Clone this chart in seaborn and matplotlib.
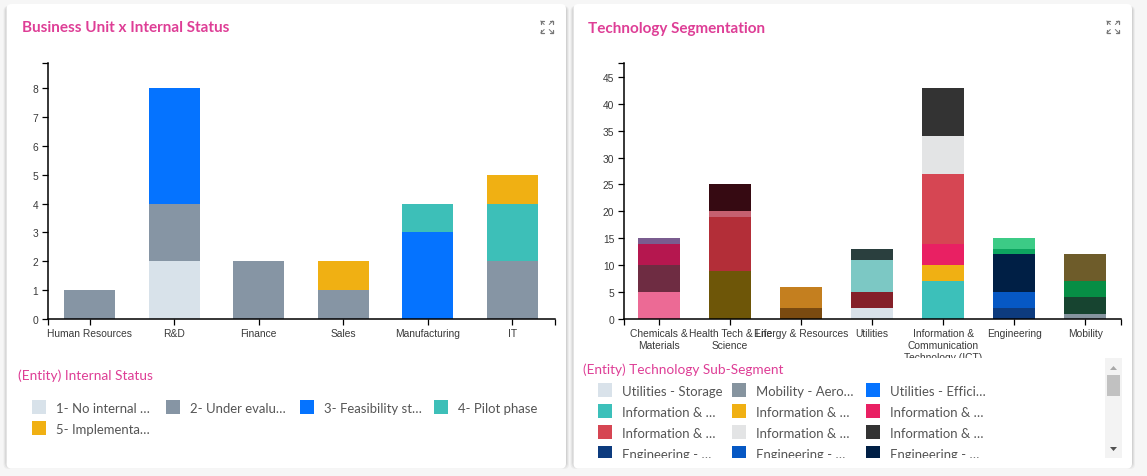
import matplotlib
matplotlib.use("Agg")
import matplotlib.pyplot as plt
import seaborn as sns
from matplotlib.patches import FancyBboxPatch, Rectangle, Polygon

# left chart data
units = ['Human Resources', 'R&D', 'Finance', 'Sales', 'Manufacturing', 'IT']
status_names = ['1- No internal …', '2- Under evalu…', '3- Feasibility st…', '4- Pilot phase', '5- Implementa…']
status_colors = ['#D8E2EA', '#8695A4', '#0573FF', '#3DBFB8', '#F0B013']
no_internal = [0, 2, 0, 0, 0, 0]
under_eval = [1, 2, 2, 1, 0, 2]
feasibility = [0, 4, 0, 0, 3, 0]
pilot = [0, 0, 0, 0, 1, 2]
implementation = [0, 0, 0, 1, 0, 1]
status_values = [no_internal, under_eval, feasibility, pilot, implementation]

# right chart data, each bar has its own sub-segments
segments = ['Chemicals &\nMaterials', 'Health Tech & Life\nScience', 'Energy & Resources', 'Utilities',
            'Information &\nCommunication\nTechnology (ICT)', 'Engineering', 'Mobility']
seg_values = [
    [5, 5, 4, 1],
    [9, 10, 1, 5],
    [2, 4],
    [2, 3, 6, 2],
    [7, 3, 4, 13, 7, 9],
    [2, 3, 7, 1, 2],
    [1, 3, 3, 5],
]
seg_colors = [
    ['#EC6A95', '#6E2C42', '#B5174F', '#7A5C8F'],
    ['#6E5608', '#B32E38', '#C56070', '#360A12'],
    ['#7A4A10', '#C47F1F'],
    ['#D9E2EA', '#842029', '#7CC8C4', '#2A3F3E'],
    ['#3CC0BA', '#F0B013', '#E92063', '#D64653', '#E3E4E5', '#333333'],
    ['#0D3B7E', '#0658C4', '#001F45', '#0DA560', '#3CCB86'],
    ['#86949F', '#174430', '#078E45', '#6E5C2A'],
]

# legend of right chart (only the rows visible above the scroll)
sub_names = ['Utilities - Storage', 'Mobility - Aero…', 'Utilities - Effici…',
             'Information & …', 'Information & …', 'Information & …',
             'Information & …', 'Information & …', 'Information & …',
             'Engineering - …', 'Engineering - …', 'Engineering - …']
sub_colors = ['#D9E2EA', '#86949F', '#0573FF',
              '#3CC0BA', '#F0B013', '#E92063',
              '#D64653', '#E3E4E5', '#333333',
              '#0D3B7E', '#0658C4', '#001F45']

sns.set_style("ticks")
plt.rcParams['font.family'] = ['Liberation Sans', 'DejaVu Sans']

W, H = 1147, 477
PINK = '#DE3E96'
fig = plt.figure(figsize=(W / 100, H / 100), dpi=100, facecolor='#F6F6F6')


def px_axes(x0, y0, x1, y1, **kw):
    return fig.add_axes([x0 / W, 1 - y1 / H, (x1 - x0) / W, (y1 - y0) / H], **kw)


def overlay(z):
    a = px_axes(0, 0, W, H, zorder=z)
    a.set_xlim(0, W)
    a.set_ylim(H, 0)
    a.axis('off')
    return a


def style_axis(ax, n, top, yticks):
    ax.set_xlim(-0.5, n - 0.5)
    ax.set_ylim(0, top)
    ax.set_yticks(yticks)
    ax.set_xticks([-0.5, n - 0.5], minor=True)
    ax.set_yticks([top], minor=True)
    ax.tick_params(which='both', length=4.3, width=0.9, color='black', labelsize=7.4,
                   labelcolor='#3A3A3A', pad=2.5)
    ax.set_xlabel('')
    ax.set_ylabel('')
    ax.patch.set_alpha(0)
    sns.despine(ax=ax)
    for s in ['left', 'bottom']:
        ax.spines[s].set_linewidth(1.1)
        ax.spines[s].set_color('black')


back = overlay(0)
for x0, x1 in [(6.5, 566), (573.5, 1132)]:
    for grow, alpha in [(4, 0.04), (3, 0.05), (2, 0.06), (1, 0.08)]:
        back.add_patch(FancyBboxPatch((x0 - grow + 1, 5 + 2), x1 - x0 + 2 * grow - 2, 464 - 5 + grow,
                                      boxstyle='round,pad=0,rounding_size=5', fc='black', ec='none', alpha=alpha))
    back.add_patch(FancyBboxPatch((x0, 5), x1 - x0, 464.5, boxstyle='round,pad=0,rounding_size=5',
                                  fc='white', ec='none'))

# business unit chart
ax1 = px_axes(47.5, 64.3, 554.5, 320, zorder=2)
bottom = [0] * len(units)
for vals, col in zip(status_values, status_colors):
    sns.barplot(x=units, y=vals, order=units, bottom=bottom, color=col, saturation=1, width=0.6,
                errorbar=None, linewidth=0, ax=ax1)
    bottom = [b + v for b, v in zip(bottom, vals)]
style_axis(ax1, len(units), 8.86, list(range(9)))

# technology chart
ax2 = px_axes(623.7, 64.3, 1120.6, 320, zorder=2)
for cat, vals, cols in zip(segments, seg_values, seg_colors):
    base = 0
    for v, c in zip(vals, cols):
        sns.barplot(x=[cat], y=[v], order=segments, bottom=base, color=c, saturation=1, width=0.6,
                    errorbar=None, linewidth=0, ax=ax2)
        base += v
style_axis(ax2, len(segments), 47.5, list(range(0, 50, 5)))

front = overlay(5)
# legend panel hides the overflowing tick label
front.add_patch(Rectangle((575, 358.5), 550, 100, fc='white', ec='none', zorder=1))

front.text(22, 28.5, 'Business Unit x Internal Status', color=PINK, fontsize=10.95, fontweight='bold',
           family='Lato', va='center', ha='left', zorder=3)
front.text(588, 28.5, 'Technology Segmentation', color=PINK, fontsize=11, fontweight='bold',
           family='Lato', va='center', ha='left', zorder=3)
front.text(17.5, 376, '(Entity) Internal Status', color=PINK, fontsize=9.95, family='Lato',
           va='center', ha='left', zorder=3)
front.text(583, 370, '(Entity) Technology Sub-Segment', color=PINK, fontsize=9.85, family='Lato',
           va='center', ha='left', zorder=3)

# expand icons
for cx in [546.7, 1112.8]:
    for sx in [-1, 1]:
        for sy in [-1, 1]:
            ox, oy = cx + sx * 6, 28 + sy * 6
            front.plot([ox, ox - sx * 3], [oy, oy], color='#777777', lw=0.9, zorder=3)
            front.plot([ox, ox], [oy, oy - sy * 3], color='#777777', lw=0.9, zorder=3)
            front.plot([ox, ox - sx * 3.5], [oy, oy - sy * 3.5], color='#777777', lw=0.7, zorder=3)

# left legend
left_pos = [(32, 401), (166, 401), (300, 401), (434, 401), (32, 422)]
for (x, y), name, col in zip(left_pos, status_names, status_colors):
    front.add_patch(Rectangle((x, y), 14, 14, fc=col, ec='none', zorder=2))
    front.text(x + 24, y + 7.7, name, fontsize=9.45, family='Lato', color='#555555', va='center', zorder=2)

# right legend
for i, (name, col) in enumerate(zip(sub_names, sub_colors)):
    x = [598, 732, 866][i % 3]
    y = 384 + 21 * (i // 3)
    front.add_patch(Rectangle((x, y), 14, 14, fc=col, ec='none', zorder=2))
    front.text(x + 24, y + 7.7, name, fontsize=9.45, family='Lato', color='#555555', va='center', zorder=2)
front.add_patch(Rectangle((590, 459), 515, 6, fc='white', ec='none', zorder=3))

# scrollbar
front.add_patch(Rectangle((1105, 359), 17, 100, fc='#F3F3F3', ec='none', zorder=3))
front.add_patch(Rectangle((1107, 376), 13, 21, fc='#C1C1C1', ec='none', zorder=4))
front.add_patch(Polygon([(1110, 371), (1117, 371), (1113.5, 367)], fc='#A8A8A8', ec='none', zorder=4))
front.add_patch(Polygon([(1110, 448), (1117, 448), (1113.5, 452)], fc='#505050', ec='none', zorder=4))

fig.savefig('out.png', dpi=100, facecolor=fig.get_facecolor())
